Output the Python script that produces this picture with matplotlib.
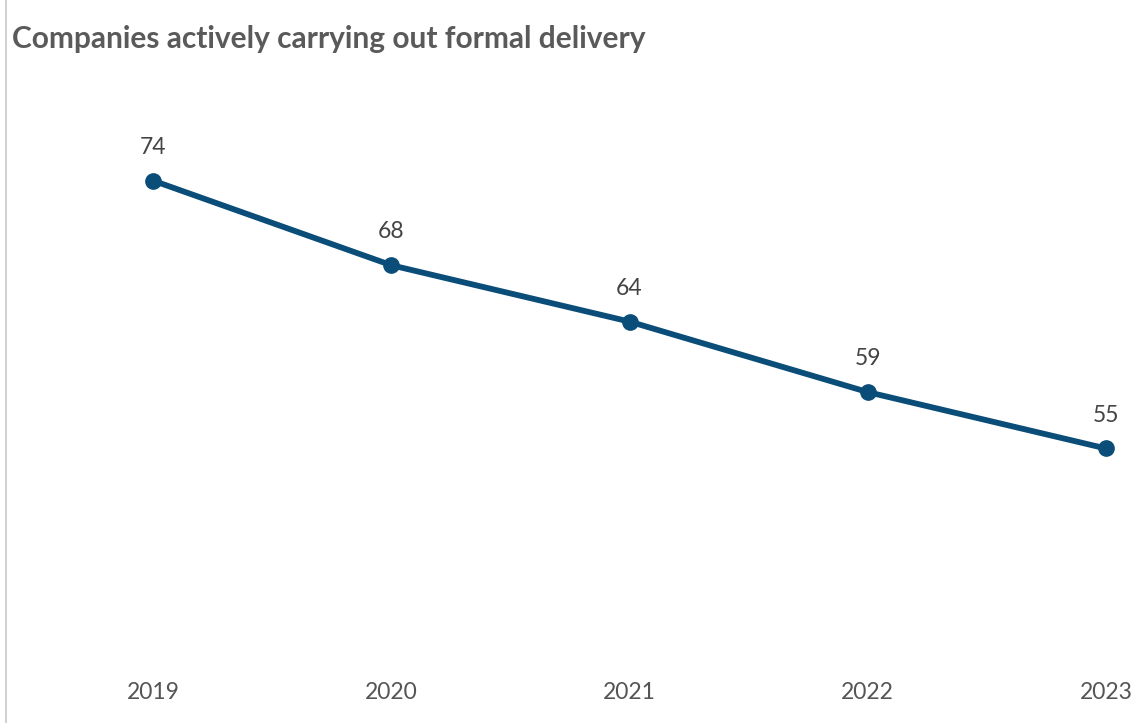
import matplotlib.pyplot as plt
from matplotlib.lines import Line2D

years = [2019, 2020, 2021, 2022, 2023]
values = [74, 68, 64, 59, 55]
title = 'Companies actively carrying out formal delivery'

plt.rcParams['font.family'] = ['Lato', 'DejaVu Sans']

fig = plt.figure(figsize=(11.37, 7.23), dpi=100)
ax = fig.add_axes([153 / 1137, 63 / 723, 953 / 1137, 600 / 723])

ax.plot(years, values, color='#0a4d78', lw=4.2, marker='o', markersize=11,
        solid_capstyle='round', clip_on=False, zorder=3)

for x, v in zip(years, values):
    ax.annotate(str(v), (x, v), xytext=(0, 24), textcoords='offset points',
                ha='center', va='center', fontsize=16.5, color='#444444')

ax.set_xlim(2019, 2023)
ax.set_ylim(40, 40 + 600 / 14.1)
ax.set_xticks(years)
ax.set_xticklabels([str(y) for y in years])
ax.set_yticks([])
ax.tick_params(axis='x', length=0, pad=16, labelsize=16.5, labelcolor='#555555')
for s in ax.spines.values():
    s.set_visible(False)

fig.add_artist(Line2D([6 / 1137, 6 / 1137], [0, 1], color='#c8c8c8', lw=1.2))
fig.text(12 / 1137, 1 - 39 / 723, title, fontsize=21.5, fontweight='bold',
         color='#5a5a5a', ha='left', va='center')

fig.savefig('out.png', dpi=100)
